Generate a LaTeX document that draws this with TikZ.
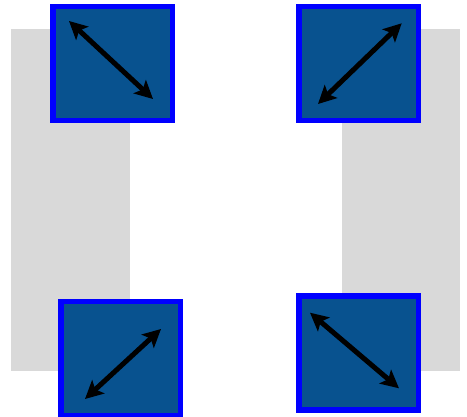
\documentclass[tikz,border=0pt]{standalone}
\usetikzlibrary{arrows.meta}
\definecolor{graybg}{HTML}{D9D9D9}
\definecolor{boxfill}{HTML}{08528F}
\definecolor{boxline}{HTML}{0000FF}
\begin{document}
\begin{tikzpicture}[x=1pt,y=-1pt,
  panel/.style={fill=graybg},
  box/.style={draw=boxline, fill=boxfill, line width=5.5pt, minimum width=119.5pt, minimum height=114pt, inner sep=0pt, outer sep=0pt},
  dbl/.style={line width=5pt, {Stealth[length=18pt,width=18pt,inset=4pt]}-{Stealth[length=18pt,width=18pt,inset=4pt]}}]
\useasboundingbox (0,0) rectangle (467,417);
\fill[panel] (11,29.5) rectangle (129.5,370.7);
\fill[panel] (341.7,29.5) rectangle (460,370.7);
\node[box] (tl) at (112.75,63.7) {};
\node[box] (tr) at (358.75,63.7) {};
\node[box] (bl) at (120.65,358.5) {};
\node[box] (br) at (358.75,353) {};
\coordinate (tla) at (69,21);
\coordinate (tlb) at (153,99);
\coordinate (tra) at (318,104);
\coordinate (trb) at (401.7,23.3);
\coordinate (bla) at (85,399);
\coordinate (blb) at (161,329);
\coordinate (bra) at (310,312.7);
\coordinate (brb) at (399,388.3);
\draw[dbl] (tla) -- (tlb);
\draw[dbl] (tra) -- (trb);
\draw[dbl] (bla) -- (blb);
\draw[dbl] (bra) -- (brb);
\end{tikzpicture}
\end{document}
